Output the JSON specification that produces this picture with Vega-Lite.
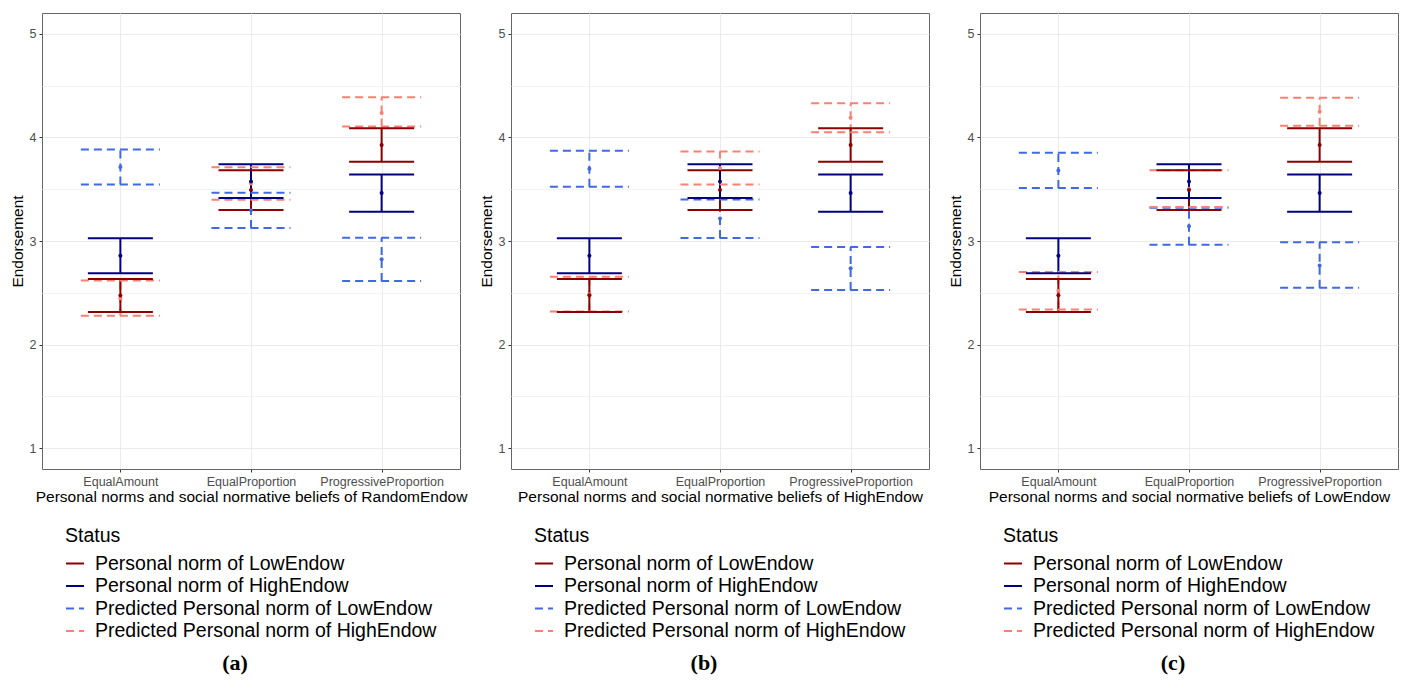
{
 "$schema": "https://vega.github.io/schema/vega-lite/v6.json",
 "background": "white",
 "padding": {"left": 9, "top": 12, "right": 0, "bottom": 0},
 "bounds": "flush",
 "spacing": 51,
 "datasets": {
  "ci": [
   {"p":"a","cat":"EqualAmount","s":"Predicted Personal norm of LowEndow","m":3.715,"lo":3.544,"hi":3.883},
   {"p":"a","cat":"EqualAmount","s":"Predicted Personal norm of HighEndow","m":2.448,"lo":2.278,"hi":2.618},
   {"p":"a","cat":"EqualAmount","s":"Personal norm of LowEndow","m":2.474,"lo":2.314,"hi":2.634},
   {"p":"a","cat":"EqualAmount","s":"Personal norm of HighEndow","m":2.858,"lo":2.689,"hi":3.026},
   {"p":"a","cat":"EqualProportion","s":"Predicted Personal norm of LowEndow","m":3.296,"lo":3.126,"hi":3.466},
   {"p":"a","cat":"EqualProportion","s":"Predicted Personal norm of HighEndow","m":3.555,"lo":3.398,"hi":3.712},
   {"p":"a","cat":"EqualProportion","s":"Personal norm of LowEndow","m":3.492,"lo":3.298,"hi":3.683},
   {"p":"a","cat":"EqualProportion","s":"Personal norm of HighEndow","m":3.573,"lo":3.414,"hi":3.741},
   {"p":"a","cat":"ProgressiveProportion","s":"Predicted Personal norm of LowEndow","m":2.825,"lo":2.615,"hi":3.032},
   {"p":"a","cat":"ProgressiveProportion","s":"Predicted Personal norm of HighEndow","m":4.235,"lo":4.104,"hi":4.386},
   {"p":"a","cat":"ProgressiveProportion","s":"Personal norm of LowEndow","m":3.926,"lo":3.764,"hi":4.087},
   {"p":"a","cat":"ProgressiveProportion","s":"Personal norm of HighEndow","m":3.463,"lo":3.282,"hi":3.641},

   {"p":"b","cat":"EqualAmount","s":"Predicted Personal norm of LowEndow","m":3.696,"lo":3.524,"hi":3.871},
   {"p":"b","cat":"EqualAmount","s":"Predicted Personal norm of HighEndow","m":2.487,"lo":2.320,"hi":2.654},
   {"p":"b","cat":"EqualAmount","s":"Personal norm of LowEndow","m":2.476,"lo":2.314,"hi":2.634},
   {"p":"b","cat":"EqualAmount","s":"Personal norm of HighEndow","m":2.858,"lo":2.689,"hi":3.026},
   {"p":"b","cat":"EqualProportion","s":"Predicted Personal norm of LowEndow","m":3.217,"lo":3.029,"hi":3.401},
   {"p":"b","cat":"EqualProportion","s":"Predicted Personal norm of HighEndow","m":3.704,"lo":3.544,"hi":3.864},
   {"p":"b","cat":"EqualProportion","s":"Personal norm of LowEndow","m":3.492,"lo":3.298,"hi":3.683},
   {"p":"b","cat":"EqualProportion","s":"Personal norm of HighEndow","m":3.573,"lo":3.414,"hi":3.741},
   {"p":"b","cat":"ProgressiveProportion","s":"Predicted Personal norm of LowEndow","m":2.738,"lo":2.528,"hi":2.942},
   {"p":"b","cat":"ProgressiveProportion","s":"Predicted Personal norm of HighEndow","m":4.189,"lo":4.049,"hi":4.328},
   {"p":"b","cat":"ProgressiveProportion","s":"Personal norm of LowEndow","m":3.926,"lo":3.764,"hi":4.087},
   {"p":"b","cat":"ProgressiveProportion","s":"Personal norm of HighEndow","m":3.463,"lo":3.282,"hi":3.641},

   {"p":"c","cat":"EqualAmount","s":"Predicted Personal norm of LowEndow","m":3.681,"lo":3.511,"hi":3.851},
   {"p":"c","cat":"EqualAmount","s":"Predicted Personal norm of HighEndow","m":2.521,"lo":2.340,"hi":2.702},
   {"p":"c","cat":"EqualAmount","s":"Personal norm of LowEndow","m":2.476,"lo":2.314,"hi":2.634},
   {"p":"c","cat":"EqualAmount","s":"Personal norm of HighEndow","m":2.858,"lo":2.689,"hi":3.026},
   {"p":"c","cat":"EqualProportion","s":"Predicted Personal norm of LowEndow","m":3.142,"lo":2.964,"hi":3.320},
   {"p":"c","cat":"EqualProportion","s":"Predicted Personal norm of HighEndow","m":3.505,"lo":3.327,"hi":3.683},
   {"p":"c","cat":"EqualProportion","s":"Personal norm of LowEndow","m":3.492,"lo":3.298,"hi":3.683},
   {"p":"c","cat":"EqualProportion","s":"Personal norm of HighEndow","m":3.573,"lo":3.414,"hi":3.741},
   {"p":"c","cat":"ProgressiveProportion","s":"Predicted Personal norm of LowEndow","m":2.764,"lo":2.550,"hi":2.987},
   {"p":"c","cat":"ProgressiveProportion","s":"Predicted Personal norm of HighEndow","m":4.248,"lo":4.113,"hi":4.382},
   {"p":"c","cat":"ProgressiveProportion","s":"Personal norm of LowEndow","m":3.926,"lo":3.764,"hi":4.087},
   {"p":"c","cat":"ProgressiveProportion","s":"Personal norm of HighEndow","m":3.463,"lo":3.282,"hi":3.641}
  ]
 },
 "data": {"name": "ci"},
 "resolve": {"scale": {"color": "independent", "strokeDash": "independent"}, "legend": {"color": "independent", "strokeDash": "independent"}},
 "hconcat": [
  {
   "width": 418, "height": 456,
   "title": {"text": "(a)", "orient": "bottom", "anchor": "middle", "font": "Liberation Serif", "fontSize": 22, "fontWeight": "bold", "color": "#000000", "offset": 12, "dx": -16},
   "transform": [{"filter": "datum.p === 'a'"}],
   "encoding": {
    "x": {"field": "cat", "type": "nominal", "scale": {"type": "point", "padding": 0.6}, "axis": {"title": "Personal norms and social normative beliefs of RandomEndow", "labelAngle": 0, "grid": true}},
    "color": {"field": "s", "type": "nominal", "scale": {"domain": ["Personal norm of LowEndow","Personal norm of HighEndow","Predicted Personal norm of LowEndow","Predicted Personal norm of HighEndow"], "range": ["#8B0000","#000080","#4169E1","#FA8072"]}, "legend": {"orient": "none", "legendX": 23, "legendY": 514, "direction": "vertical", "title": "Status", "symbolType": "stroke", "symbolSize": 324, "symbolStrokeWidth": 2}}
   },
   "layer": [
    {"mark": {"type": "rule", "strokeWidth": 2},
     "encoding": {"y": {"field": "lo", "type": "quantitative", "title": "Endorsement", "scale": {"domain": [0.8, 5.2], "nice": false, "zero": false}, "axis": {"values": [1,1.5,2,2.5,3,3.5,4,4.5,5], "labelExpr": "datum.value % 1 === 0 ? '' + datum.value : ''", "gridColor": {"condition": {"test": "datum.value % 1 !== 0", "value": "#F3F3F3"}, "value": "#EBEBEB"}, "tickOpacity": {"condition": {"test": "datum.value % 1 !== 0", "value": 0}, "value": 1}}}, "y2": {"field": "hi"},
      "strokeDash": {"field": "s", "type": "nominal", "scale": {"domain": ["Personal norm of LowEndow","Personal norm of HighEndow","Predicted Personal norm of LowEndow","Predicted Personal norm of HighEndow"], "range": [[1,0],[1,0],[8,5],[8,5]]}, "legend": {"orient": "none", "legendX": 23, "legendY": 514, "direction": "vertical", "title": "Status", "symbolType": "stroke", "symbolSize": 324, "symbolStrokeWidth": 2}}}},
    {"transform": [{"filter": "indexof(datum.s, 'Predicted') === 0"}, {"fold": ["lo", "hi"], "as": ["end", "v"]}],
     "mark": {"type": "rule", "strokeWidth": 2, "xOffset": -39.5, "x2Offset": 39.5},
     "encoding": {"x2": {"field": "cat"}, "y": {"field": "v", "type": "quantitative", "title": "Endorsement"},
      "strokeDash": {"field": "s", "type": "nominal"}}},
    {"transform": [{"filter": "indexof(datum.s, 'Predicted') !== 0"}, {"fold": ["lo", "hi"], "as": ["end", "v"]}],
     "mark": {"type": "rule", "strokeWidth": 2, "xOffset": -32.5, "x2Offset": 32.5},
     "encoding": {"x2": {"field": "cat"}, "y": {"field": "v", "type": "quantitative", "title": "Endorsement"},
      "strokeDash": {"field": "s", "type": "nominal"}}},
    {"mark": {"type": "circle", "size": 16, "opacity": 1},
     "encoding": {"y": {"field": "m", "type": "quantitative", "title": "Endorsement"}}}
   ]
  },
  {
   "width": 418, "height": 456,
   "title": {"text": "(b)", "orient": "bottom", "anchor": "middle", "font": "Liberation Serif", "fontSize": 22, "fontWeight": "bold", "color": "#000000", "offset": 12, "dx": -16},
   "transform": [{"filter": "datum.p === 'b'"}],
   "encoding": {
    "x": {"field": "cat", "type": "nominal", "scale": {"type": "point", "padding": 0.6}, "axis": {"title": "Personal norms and social normative beliefs of HighEndow", "labelAngle": 0, "grid": true}},
    "color": {"field": "s", "type": "nominal", "scale": {"domain": ["Personal norm of LowEndow","Personal norm of HighEndow","Predicted Personal norm of LowEndow","Predicted Personal norm of HighEndow"], "range": ["#8B0000","#000080","#4169E1","#FA8072"]}, "legend": {"orient": "none", "legendX": 23, "legendY": 514, "direction": "vertical", "title": "Status", "symbolType": "stroke", "symbolSize": 324, "symbolStrokeWidth": 2}}
   },
   "layer": [
    {"mark": {"type": "rule", "strokeWidth": 2},
     "encoding": {"y": {"field": "lo", "type": "quantitative", "title": "Endorsement", "scale": {"domain": [0.8, 5.2], "nice": false, "zero": false}, "axis": {"values": [1,1.5,2,2.5,3,3.5,4,4.5,5], "labelExpr": "datum.value % 1 === 0 ? '' + datum.value : ''", "gridColor": {"condition": {"test": "datum.value % 1 !== 0", "value": "#F3F3F3"}, "value": "#EBEBEB"}, "tickOpacity": {"condition": {"test": "datum.value % 1 !== 0", "value": 0}, "value": 1}}}, "y2": {"field": "hi"},
      "strokeDash": {"field": "s", "type": "nominal", "scale": {"domain": ["Personal norm of LowEndow","Personal norm of HighEndow","Predicted Personal norm of LowEndow","Predicted Personal norm of HighEndow"], "range": [[1,0],[1,0],[8,5],[8,5]]}, "legend": {"orient": "none", "legendX": 23, "legendY": 514, "direction": "vertical", "title": "Status", "symbolType": "stroke", "symbolSize": 324, "symbolStrokeWidth": 2}}}},
    {"transform": [{"filter": "indexof(datum.s, 'Predicted') === 0"}, {"fold": ["lo", "hi"], "as": ["end", "v"]}],
     "mark": {"type": "rule", "strokeWidth": 2, "xOffset": -39.5, "x2Offset": 39.5},
     "encoding": {"x2": {"field": "cat"}, "y": {"field": "v", "type": "quantitative", "title": "Endorsement"},
      "strokeDash": {"field": "s", "type": "nominal"}}},
    {"transform": [{"filter": "indexof(datum.s, 'Predicted') !== 0"}, {"fold": ["lo", "hi"], "as": ["end", "v"]}],
     "mark": {"type": "rule", "strokeWidth": 2, "xOffset": -32.5, "x2Offset": 32.5},
     "encoding": {"x2": {"field": "cat"}, "y": {"field": "v", "type": "quantitative", "title": "Endorsement"},
      "strokeDash": {"field": "s", "type": "nominal"}}},
    {"mark": {"type": "circle", "size": 16, "opacity": 1},
     "encoding": {"y": {"field": "m", "type": "quantitative", "title": "Endorsement"}}}
   ]
  },
  {
   "width": 418, "height": 456,
   "title": {"text": "(c)", "orient": "bottom", "anchor": "middle", "font": "Liberation Serif", "fontSize": 22, "fontWeight": "bold", "color": "#000000", "offset": 12, "dx": -16},
   "transform": [{"filter": "datum.p === 'c'"}],
   "encoding": {
    "x": {"field": "cat", "type": "nominal", "scale": {"type": "point", "padding": 0.6}, "axis": {"title": "Personal norms and social normative beliefs of LowEndow", "labelAngle": 0, "grid": true}},
    "color": {"field": "s", "type": "nominal", "scale": {"domain": ["Personal norm of LowEndow","Personal norm of HighEndow","Predicted Personal norm of LowEndow","Predicted Personal norm of HighEndow"], "range": ["#8B0000","#000080","#4169E1","#FA8072"]}, "legend": {"orient": "none", "legendX": 23, "legendY": 514, "direction": "vertical", "title": "Status", "symbolType": "stroke", "symbolSize": 324, "symbolStrokeWidth": 2}}
   },
   "layer": [
    {"mark": {"type": "rule", "strokeWidth": 2},
     "encoding": {"y": {"field": "lo", "type": "quantitative", "title": "Endorsement", "scale": {"domain": [0.8, 5.2], "nice": false, "zero": false}, "axis": {"values": [1,1.5,2,2.5,3,3.5,4,4.5,5], "labelExpr": "datum.value % 1 === 0 ? '' + datum.value : ''", "gridColor": {"condition": {"test": "datum.value % 1 !== 0", "value": "#F3F3F3"}, "value": "#EBEBEB"}, "tickOpacity": {"condition": {"test": "datum.value % 1 !== 0", "value": 0}, "value": 1}}}, "y2": {"field": "hi"},
      "strokeDash": {"field": "s", "type": "nominal", "scale": {"domain": ["Personal norm of LowEndow","Personal norm of HighEndow","Predicted Personal norm of LowEndow","Predicted Personal norm of HighEndow"], "range": [[1,0],[1,0],[8,5],[8,5]]}, "legend": {"orient": "none", "legendX": 23, "legendY": 514, "direction": "vertical", "title": "Status", "symbolType": "stroke", "symbolSize": 324, "symbolStrokeWidth": 2}}}},
    {"transform": [{"filter": "indexof(datum.s, 'Predicted') === 0"}, {"fold": ["lo", "hi"], "as": ["end", "v"]}],
     "mark": {"type": "rule", "strokeWidth": 2, "xOffset": -39.5, "x2Offset": 39.5},
     "encoding": {"x2": {"field": "cat"}, "y": {"field": "v", "type": "quantitative", "title": "Endorsement"},
      "strokeDash": {"field": "s", "type": "nominal"}}},
    {"transform": [{"filter": "indexof(datum.s, 'Predicted') !== 0"}, {"fold": ["lo", "hi"], "as": ["end", "v"]}],
     "mark": {"type": "rule", "strokeWidth": 2, "xOffset": -32.5, "x2Offset": 32.5},
     "encoding": {"x2": {"field": "cat"}, "y": {"field": "v", "type": "quantitative", "title": "Endorsement"},
      "strokeDash": {"field": "s", "type": "nominal"}}},
    {"mark": {"type": "circle", "size": 16, "opacity": 1},
     "encoding": {"y": {"field": "m", "type": "quantitative", "title": "Endorsement"}}}
   ]
  }
 ],
 "config": {
  "font": "Liberation Sans",
  "view": {"stroke": "#666666", "strokeWidth": 1},
  "axis": {"domain": false, "tickColor": "#333333", "tickSize": 3, "labelColor": "#4D4D4D", "labelFont": "Liberation Sans", "labelFontSize": 12.5, "labelPadding": 3, "titleFont": "Liberation Sans", "titleFontSize": 15.5, "titleFontWeight": "normal", "titleColor": "#000000", "gridColor": "#EBEBEB", "titlePadding": 2},
  "axisY": {"titlePadding": 4},
  "legend": {"titleFont": "Liberation Sans", "titleFontSize": 19.5, "titleFontWeight": "normal", "titleColor": "#000000", "titlePadding": 7, "labelFont": "Liberation Sans", "labelFontSize": 19.5, "labelColor": "#000000", "labelLimit": 0, "rowPadding": 2.5, "labelOffset": 10}
 }
}
